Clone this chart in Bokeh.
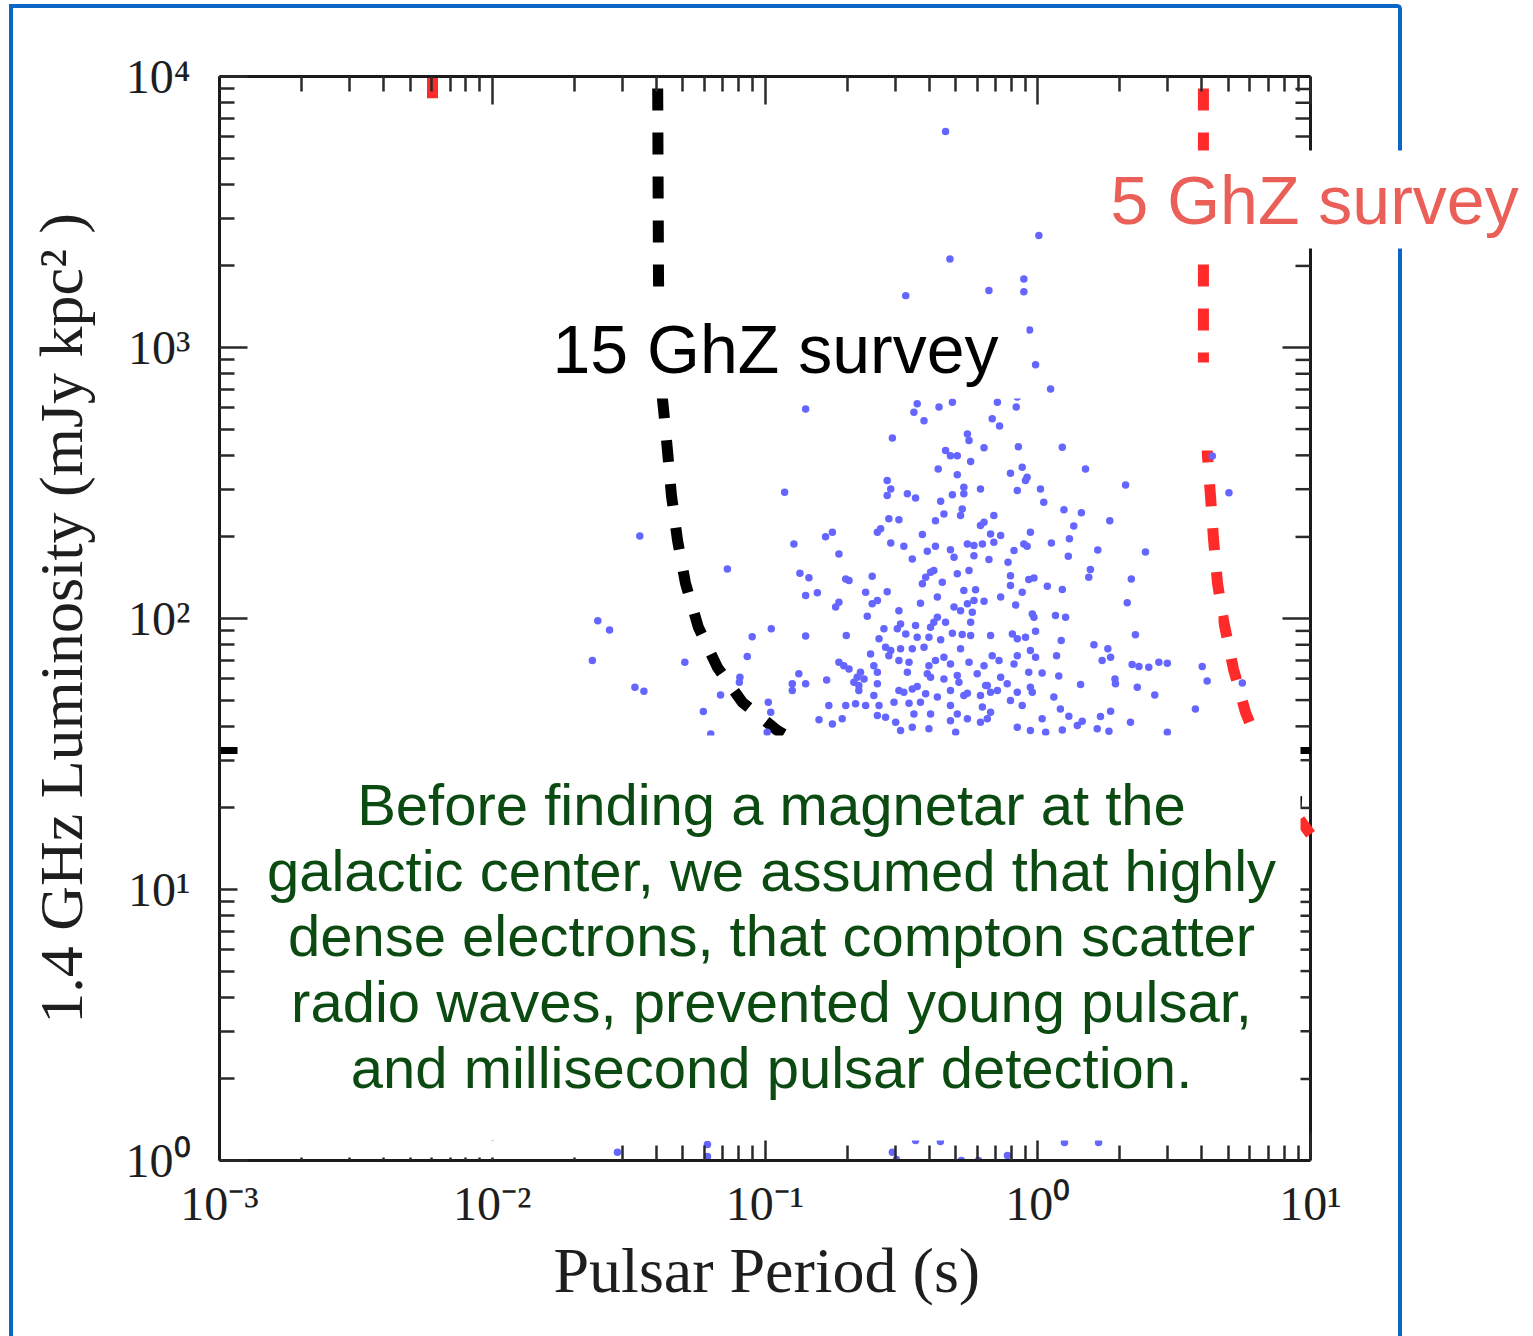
import numpy as np
from bokeh.plotting import figure
from bokeh.models import (FixedTicker, LogAxis, CustomJSTickFormatter,
                          BoxAnnotation, Label, InlineStyleSheet, Title)
from bokeh.embed import file_html
from bokeh.resources import INLINE

# ---------------- data ----------------
# pulsars: log10(period / s), log10(luminosity / mJy kpc^2)
log10_period = [
    -0.442, -0.454, -0.417, -0.362, -0.313, -0.148, -0.075, -0.079, -0.167, -0.140,
    -0.851, -0.533, -0.258, -0.252, -0.197, -0.071, -0.338, -0.320, -0.295, -0.246,
    -0.365, -0.295, -0.100, -0.552, -0.539, -0.552, -0.478, -0.448, -0.313, -0.271,
    -0.271, -0.210, -0.075, -0.356, -0.277, -0.283, -0.344, -0.375, -0.546, -0.509,
    -0.576, -0.588, -0.423, -0.197, -0.161, -0.210, -0.173, -0.136, -0.539, -0.491,
    -0.405, -0.375, -0.320, -0.307, -0.258, -0.234, -0.203, -0.161, -0.087, -0.234,
    -0.179, -0.109, -0.460, -0.928, -0.753, -0.778, -0.894, -0.729, -1.138, -1.459,
    -0.872, -0.839, -0.704, -0.692, -0.607, -0.393, -0.381, -0.411, -0.423, -0.350,
    -0.295, -0.252, -0.100, -0.100, -0.631, -0.552, -0.588, -0.607, -0.741, -0.729,
    -0.851, -0.808, -0.625, -0.509, -0.430, -0.368, -0.307, -0.283, -0.258, -0.234,
    -0.197, -0.271, -0.228, -0.136, -0.081, -0.368, -0.381, -0.393, -0.338, -0.246,
    -0.240, -0.564, -0.515, -0.503, -0.484, -0.448, -0.442, -0.399, -0.356, -0.313,
    -0.277, -0.246, -0.173, -0.093, -0.075, -0.582, -0.558, -0.539, -0.503, -0.460,
    -0.417, -0.546, -0.509, -0.472, -0.399, -0.375, -0.344, -0.320, -0.283, -0.252,
    -0.197, -0.167, -0.142, -0.087, -0.075, -0.729, -0.711, -0.692, -0.650, -0.662,
    -0.613, -0.601, -0.588, -0.478, -0.405, -0.393, -0.344, -0.295, -0.289, -0.222,
    -0.185, -0.136, -0.112, -1.613, -1.570, -1.633, -1.294, -1.065, -1.047, -0.977,
    -0.851, -0.702, -1.477, -1.444, -1.163, -1.092, -1.094, -1.226, -0.988, -0.979,
    -0.876, -0.900, -0.900, -0.851, -0.774, -0.674, -0.656, -0.637, -0.588, -0.656,
    -0.601, -0.509, -0.491, -0.460, -0.442, -0.411, -0.368, -0.320, -0.271, -0.258,
    -0.191, -0.210, -0.173, -0.148, -0.075, -0.766, -0.704, -0.668, -0.631, -0.582,
    -0.527, -0.472, -0.430, -0.393, -0.320, -0.295, -0.203, -0.173, -0.100, -0.802,
    -0.753, -0.717, -0.588, -0.558, -0.521, -0.503, -0.460, -0.454, -0.399, -0.320,
    -0.301, -0.258, -0.210, -0.185, -0.075, -1.199, -0.992,
    0.047, 0.090, 0.175, -0.057, -0.039, -0.045, 0.010, 0.022, 0.096, 0.160,
    0.322, 0.264, 0.132, -0.027, -0.051, -0.039, 0.050, 0.116, 0.112, 0.220,
    0.395, -0.014, -0.033, 0.035, 0.090, 0.193, 0.187, 0.343, -0.057, 0.328,
    -0.020, -0.014, 0.065, 0.102, -0.045, -0.008, 0.086, -0.027, -0.008, 0.069,
    0.206, 0.257, 0.267, 0.236, 0.358, 0.346, 0.371, 0.407, 0.444, 0.475,
    0.603, 0.621, 0.750, 0.016, -0.033, 0.077, 0.157, 0.283, 0.285, 0.365,
    -0.027, -0.020, 0.059, 0.083, 0.114, -0.057, 0.016, 0.230, 0.267, 0.163,
    0.145, 0.340, 0.429, 0.578, 0.475, -0.027, 0.029, 0.090, 0.218, 0.261,
    0.701, 0.640,
    -0.338, -0.322, -0.484, -0.179, -0.051, -0.051, -0.030, -0.008, 0.004,
    -1.541, -1.211, -1.211, -0.533, -0.518, -0.280, -0.217, -0.111, 0.098, 0.223,
    -0.448, -0.357,
]
log10_lum = [
    2.792, 2.761, 2.730, 2.780, 2.798, 2.798, 2.817, 2.780, 2.737, 2.710,
    2.773, 2.666, 2.681, 2.657, 2.630, 2.634, 2.620, 2.601, 2.601, 2.579,
    2.552, 2.530, 2.536, 2.509, 2.478, 2.454, 2.460, 2.445, 2.457, 2.484,
    2.460, 2.478, 2.472, 2.433, 2.404, 2.380, 2.386, 2.361, 2.368, 2.364,
    2.331, 2.318, 2.310, 2.355, 2.380, 2.343, 2.312, 2.306, 2.279, 2.267,
    2.248, 2.267, 2.254, 2.226, 2.275, 2.269, 2.275, 2.281, 2.251, 2.232,
    2.218, 2.208, 2.220, 2.466, 2.318, 2.302, 2.275, 2.238, 2.183, 2.304,
    2.167, 2.150, 2.146, 2.140, 2.156, 2.171, 2.177, 2.152, 2.128, 2.134,
    2.165, 2.177, 2.158, 2.122, 2.097, 2.099, 2.066, 2.054, 2.042, 2.060,
    2.085, 2.095, 2.008, 2.029, 2.056, 2.079, 2.042, 2.029, 2.054, 2.066,
    2.064, 2.103, 2.106, 2.079, 2.050, 2.005, 1.986, 1.968, 1.986, 1.986,
    2.023, 1.962, 1.962, 1.980, 1.943, 1.974, 1.931, 1.931, 1.922, 1.946,
    1.941, 1.937, 1.937, 1.943, 1.925, 1.925, 1.894, 1.882, 1.888, 1.888,
    1.894, 1.863, 1.845, 1.839, 1.826, 1.845, 1.857, 1.832, 1.888, 1.839,
    1.826, 1.863, 1.845, 1.832, 1.863, 1.839, 1.826, 1.814, 1.802, 1.783,
    1.869, 1.826, 1.802, 1.802, 1.796, 1.783, 1.777, 1.790, 1.765, 1.796,
    1.753, 1.783, 1.759, 1.992, 1.958, 1.845, 1.839, 1.860, 1.933, 1.962,
    1.935, 1.937, 1.746, 1.732, 1.718, 1.783, 1.765, 1.657, 1.691, 1.654,
    1.796, 1.759, 1.734, 1.759, 1.773, 1.765, 1.753, 1.777, 1.759, 1.734,
    1.716, 1.734, 1.728, 1.740, 1.749, 1.722, 1.710, 1.734, 1.716, 1.724,
    1.753, 1.716, 1.728, 1.734, 1.728, 1.679, 1.679, 1.685, 1.679, 1.679,
    1.691, 1.687, 1.691, 1.648, 1.679, 1.648, 1.673, 1.654, 1.697, 1.626,
    1.611, 1.630, 1.642, 1.636, 1.617, 1.587, 1.599, 1.648, 1.593, 1.623,
    1.580, 1.630, 1.617, 1.630, 1.599, 1.574, 1.580,
    2.847, 2.632, 2.552, 2.558, 2.521, 2.509, 2.478, 2.429, 2.401, 2.390,
    2.493, 2.361, 2.341, 2.318, 2.275, 2.267, 2.279, 2.294, 2.230, 2.253,
    2.245, 2.149, 2.144, 2.119, 2.107, 2.181, 2.152, 2.146, 2.097, 2.058,
    2.017, 2.005, 2.011, 2.005, 1.931, 1.953, 1.919, 1.882, 1.857, 1.863,
    1.903, 1.888, 1.857, 1.845, 1.940, 1.830, 1.823, 1.820, 1.839, 1.835,
    1.823, 1.769, 1.762, 1.799, 1.802, 1.788, 1.756, 1.777, 1.759, 1.746,
    1.746, 1.728, 1.710, 1.666, 1.639, 1.679, 1.630, 1.638, 1.658, 1.621,
    1.605, 1.617, 1.718, 1.666, 1.580, 1.587, 1.580, 1.589, 1.593, 1.584,
    2.464, 2.600,
    3.797, 3.327, 3.191, 3.210, 3.253, 3.206, 3.065, 2.936, 3.413,
    0.030, 0.059, 0.015, 0.030, 0.004, 0.000, 0.000, 0.018, 0.066, 0.066,
    0.074, 0.070,
]

# 15 GHz survey sensitivity curve (black dashed)
survey15_period = [0.0404, 0.0407, 0.0414, 0.0425, 0.0439, 0.0454, 0.0478, 0.0511,
                   0.0570, 0.0670, 0.0827, 0.111, 0.16, 0.30, 1.0, 10.0]
survey15_lum = [10000, 1766, 755, 586, 417, 284, 194, 135,
                92.7, 65.9, 49.0, 38.6, 31, 26, 23, 21]

# 5 GHz survey sensitivity curve (red dashed)
survey5_period = [4.05, 4.05, 4.19, 4.30, 4.41, 4.56, 4.80, 5.22, 5.78, 7.0, 8.5, 10.0]
survey5_lum = [10000, 880, 399, 282, 196, 135, 98, 65, 45, 28, 20, 16]

# further (mostly covered) curves
survey_low_period = [0.00604, 0.00604]
survey_low_lum = [10000, 35]
limit_period = [0.001, 10.0]
limit_lum = [32.6, 32.6]

x_ticks = [1e-3, 1e-2, 1e-1, 1, 10]
x_tick_labels = ["10\u207b\u00b3", "10\u207b\u00b2", "10\u207b\u00b9", "10\u2070", "10\u00b9"]
y_ticks = [1, 10, 100, 1000, 10000]
y_tick_labels = ["10\u2070", "10\u00b9", "10\u00b2", "10\u00b3", "10\u2074"]

x_title = "Pulsar Period (s)"
y_title = "1.4 GHz Luminosity (mJy kpc\u00b2 )"

text_lines = [
    "Before finding a magnetar at the",
    "galactic center, we assumed that highly",
    "dense electrons, that compton scatter",
    "radio waves, prevented young pulsar,",
    "and millisecond pulsar detection.",
]

# ---------------- layout ----------------
W, H = 1533, 1336
FL, FR, FT, FB = 219, 1310, 76, 1160      # axes box of the chart (pixels)
DEC_X = (FR - FL) / 4.0
DEC_Y = (FB - FT) / 4.0

period = 10 ** np.array(log10_period)
lum = 10 ** np.array(log10_lum)


def px2x(px):
    return 10 ** (-3 + (px - FL) / DEC_X)


def py2y(py):
    return 10 ** (4 - (py - FT) / DEC_Y)


# the frame runs to the right edge of the page so the slide text can cross the axes box
p = figure(width=W, height=H, x_axis_type="log", y_axis_type="log",
           x_range=(1e-3, px2x(W)), y_range=(1, 1e4),
           output_backend="svg", toolbar_location=None,
           min_border_left=FL, min_border_right=0,
           min_border_top=FT, min_border_bottom=H - FB)
p.background_fill_color = None
p.border_fill_color = None
p.outline_line_color = None
p.xgrid.visible = False
p.ygrid.visible = False

# blue slide frame (drawn behind the transparent canvas)
p.stylesheets = [InlineStyleSheet(css="""
:host { position: relative; isolation: isolate; background: transparent; }
:host::before {
  content: "";
  position: absolute;
  left: 8.75px; top: 4.25px;
  width: 1393.5px; height: 1331.75px;
  border: 4.5px solid #0b66c5;
  border-bottom: none;
  border-top-right-radius: 5px;
  box-sizing: border-box;
  pointer-events: none;
  z-index: -1;
}
""")]


def minors(majors):
    out = []
    for m in majors[:-1]:
        out += [k * m for k in range(2, 10)]
    return out


def fmt(values, labels):
    return CustomJSTickFormatter(args=dict(tick_values=values, tick_labels=labels), code="""
        for (let i = 0; i < tick_values.length; i++) {
            if (Math.abs(Math.log10(tick) - Math.log10(tick_values[i])) < 1e-6) return tick_labels[i];
        }
        return '';
    """)


AX_COLOR = "#1a1a1a"
TICK_COLOR = "#2a2a2a"
TEXT_COLOR = "#1e1e1e"


def style(ax, ticks):
    ax.ticker = FixedTicker(ticks=ticks, minor_ticks=minors(ticks))
    ax.bounds = (ticks[0], ticks[-1])
    ax.axis_line_color = AX_COLOR
    ax.axis_line_width = 3
    ax.major_tick_in = 28
    ax.major_tick_out = 0
    ax.minor_tick_in = 15
    ax.minor_tick_out = 0
    ax.major_tick_line_color = TICK_COLOR
    ax.major_tick_line_width = 2.5
    ax.minor_tick_line_color = TICK_COLOR
    ax.minor_tick_line_width = 2.5
    ax.major_label_text_font = "Liberation Serif"
    ax.major_label_text_font_size = "48px"
    ax.major_label_text_color = TEXT_COLOR
    ax.axis_label_text_font = "Liberation Serif"
    ax.axis_label_text_font_size = "62px"
    ax.axis_label_text_font_style = "normal"
    ax.axis_label_text_color = TEXT_COLOR


xa = p.xaxis[0]
style(xa, x_ticks)
xa.formatter = fmt(x_ticks, x_tick_labels)
xa.major_label_standoff = 16

ya = p.yaxis[0]
style(ya, y_ticks)
ya.formatter = fmt(y_ticks, y_tick_labels)
ya.major_label_standoff = 29
ya.axis_label = y_title
ya.axis_label_standoff = 28

# x-axis title, centred under the axes box (not under the wider frame)
p.add_layout(Title(text=x_title, align="left", offset=334, standoff=0,
                   text_font="Liberation Serif", text_font_size="64px",
                   text_font_style="normal", text_color=TEXT_COLOR), "below")

top_ax = LogAxis()
style(top_ax, x_ticks)
top_ax.formatter = CustomJSTickFormatter(code="return '';")
top_ax.major_label_text_font_size = "1px"
top_ax.major_label_standoff = 0
p.add_layout(top_ax, "above")

# right spine of the axes box at P = 10 s, with inward ticks
x_right = x_ticks[-1]
p.line([x_right, x_right], [y_ticks[0], y_ticks[-1]], line_color=AX_COLOR, line_width=3)
p.ray(x=[x_right] * len(y_ticks), y=y_ticks, length=28, length_units="screen",
      angle=np.pi, line_color=TICK_COLOR, line_width=2.5)
y_minor = minors(y_ticks)
p.ray(x=[x_right] * len(y_minor), y=y_minor, length=15, length_units="screen",
      angle=np.pi, line_color=TICK_COLOR, line_width=2.5)

# curves
p.line(survey_low_period, survey_low_lum, line_color="#ff2b2b", line_width=11,
       line_dash="22 22")
p.line(limit_period, limit_lum, line_color="black", line_width=7)
p.line(survey15_period, survey15_lum, line_color="black", line_width=11,
       line_dash="22 22", line_dash_offset=32)
p.line(survey5_period, survey5_lum, line_color="#ff2b2b", line_width=11,
       line_dash="22 22", line_dash_offset=32)

p.scatter(period, lum, size=7.5, fill_color="#6565ff", line_color=None)

# white cover boxes of the slide
covers = [
    (540, 1026, 299, 398),     # behind "15 GhZ survey"
    (1098, 1545, 150, 248),    # behind "5 GhZ survey"
    (1190, 1215, 362, 450),
    (1209, 1218, 602, 637),
    (420, 445, 98, 735),
    (237, 1300, 735, 1140),    # behind the paragraph
    (237, 587, 1140, 1157),
]
for l, r, t, b in covers:
    p.add_layout(BoxAnnotation(left=px2x(l), right=px2x(r), top=py2y(t), bottom=py2y(b),
                               fill_color="white", fill_alpha=1, line_color=None))

SHIFT = 0.38   # baseline correction (fraction of font size)
p.add_layout(Label(x=px2x(552), y=py2y(374 - SHIFT * 68), text="15 GhZ survey",
                   text_font="Liberation Sans", text_font_size="68px",
                   text_color="black", text_align="left", text_baseline="alphabetic"))
p.add_layout(Label(x=px2x(1110), y=py2y(225 - SHIFT * 68), text="5 GhZ survey",
                   text_font="Liberation Sans", text_font_size="68px",
                   text_color="#ea5f58", text_align="left", text_baseline="alphabetic"))

baselines = [826, 892, 957, 1023, 1089]
for line, by in zip(text_lines, baselines):
    p.add_layout(Label(x=px2x(771), y=py2y(by - SHIFT * 58), text=line,
                       text_font="Liberation Sans", text_font_size="58px",
                       text_color="#0b4a10", text_align="center",
                       text_baseline="alphabetic"))

open("out.html", "w").write(file_html(p, INLINE))
